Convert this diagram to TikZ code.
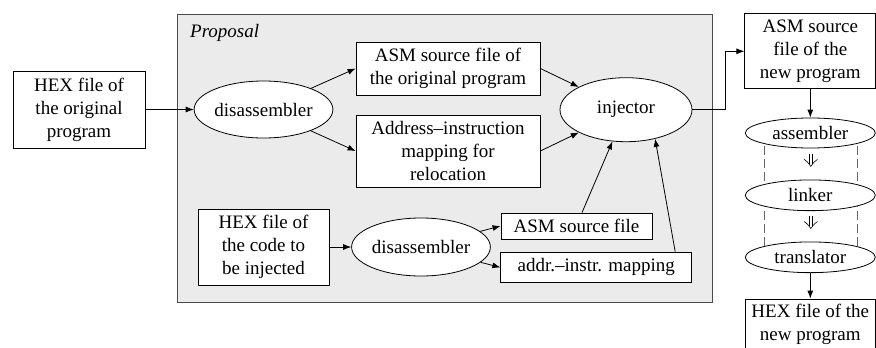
\documentclass[tikz,border=0pt]{standalone}
\usepackage{fontspec}
\setmainfont{Liberation Serif}
\usetikzlibrary{arrows.meta,shapes.geometric,calc,backgrounds}
\begin{document}
\begin{tikzpicture}[x=1pt,y=-1pt,
  every node/.style={font=\fontsize{19}{23}\selectfont, inner sep=0pt, align=center},
  box/.style={draw, line width=0.8pt, fill=white, rectangle},
  oval/.style={draw, line width=0.8pt, fill=white, ellipse},
  arr/.style={line width=0.8pt, -{Latex[length=8pt,width=6pt]}},
  dashline/.style={draw=black!60, line width=0.7pt, dash pattern=on 9pt off 4pt},
  dblarrow/.pic={
    \draw[line width=0.6pt] (-1.5,-6.5) -- (-1.5,3.8);
    \draw[line width=0.6pt] (1.5,-6.5) -- (1.5,3.8);
    \draw[line width=0.6pt, line join=miter] (-6.7,-0.8) .. controls (-3.5,1.5) .. (0,6.2) .. controls (3.5,1.5) .. (6.7,-0.8);
  },
]
\useasboundingbox (0,0) rectangle (876,348);
% proposal frame
\node[draw=black!70, line width=1.1pt, fill=black!8, minimum width=534.7pt, minimum height=288.3pt, anchor=north west] (prop) at (177,13.7) {};
\node[anchor=west, font=\fontsize{19}{23}\selectfont\itshape] (plabel) at (190,33) {Proposal};

\node[box, minimum width=132pt, minimum height=77pt] (hex1) at (79,109.5) {HEX file of\\the original\\program};
\node[oval, minimum width=131pt, minimum height=57pt] (dis1) at (263.5,109.5) {disassembler};
\node[box, minimum width=184pt, minimum height=53pt] (asm1) at (448,68.5) {ASM source file of\\the original program};
\node[box, minimum width=184pt, minimum height=72pt] (addr) at (448,151) {Address--instruction\\mapping for\\relocation};
\node[oval, minimum width=132pt, minimum height=64pt] (inj) at (626,109.7) {injector};
\node[box, minimum width=131pt, minimum height=76pt] (hex2) at (263.5,247) {HEX file of\\the code to\\be injected};
\node[oval, minimum width=132pt, minimum height=58pt] (dis2) at (421,247) {disassembler};
\node[box, minimum width=151pt, minimum height=26pt] (asmS) at (576.5,226) {ASM source file};
\node[box, minimum width=191pt, minimum height=30.7pt] (map) at (596.3,267.4) {addr.--instr. mapping};

\node[box, minimum width=131pt, minimum height=75pt] (asmN) at (810.3,51.3) {ASM source\\file of the\\new program};
\node[oval, minimum width=130pt, minimum height=30pt] (asmb) at (810.3,133) {assembler};
\node[oval, minimum width=130pt, minimum height=30.7pt] (link) at (810.3,195.3) {linker};
\node[oval, minimum width=130pt, minimum height=30.7pt] (trans) at (810.3,257.3) {translator};
\node[box, minimum width=130pt, minimum height=51pt] (hexN) at (810.3,324.5) {HEX file of the\\new program};

\coordinate (d1) at ($(asmb)!0.5!(link)+(0.5,-4)$);
\coordinate (d2) at ($(link)!0.5!(trans)+(0.5,-4)$);
\pic at (d1) {dblarrow};
\pic at (d2) {dblarrow};

\begin{scope}[on background layer]
\draw[dashline] ($(asmb.center)+(-46,0)$) -- ($(trans.center)+(-46,0)$);
\draw[dashline] ($(asmb.center)+(47,0)$) -- ($(trans.center)+(47,0)$);
\end{scope}

% connectors
\draw[arr] (hex1.east) -- (dis1.west);
\draw[arr] (dis1) -- (asm1.west);
\draw[arr] (dis1) -- (addr.west);
\draw[arr] (asm1.east) -- (inj);
\draw[arr] (addr.east) -- (inj);
\draw[arr] ($(asmS.north)+(5.5,0)$) -- (inj);
\draw[arr] ($(map.north east)+(-17,0)$) -- (inj.-45);
\draw[arr] (hex2.east) -- (dis2.west);
\draw[arr] (dis2) -- (asmS.west);
\draw[arr] (dis2) -- (map.west);
\draw[arr] (inj.east) -- ++(32.5,0) |- (asmN.west);
\draw[arr] (asmN.south) -- (asmb.north);
\draw[arr] (trans.south) -- (hexN.north);
\end{tikzpicture}
\end{document}
